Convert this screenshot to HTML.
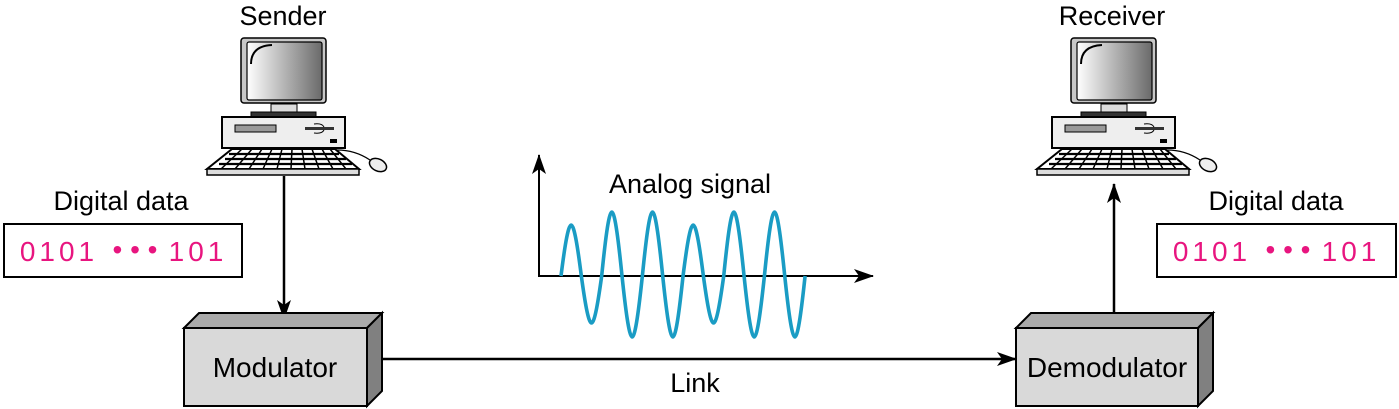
<!DOCTYPE html>
<html><head><meta charset="utf-8"><style>
html,body{margin:0;padding:0;background:#fff;}
svg{display:block;}
text{font-family:"Liberation Sans",sans-serif;}
</style></head><body>
<svg width="1399" height="409" viewBox="0 0 1399 409" xmlns="http://www.w3.org/2000/svg">
<defs>
<linearGradient id="scr" x1="0" y1="0" x2="1" y2="0">
<stop offset="0" stop-color="#ffffff"/><stop offset="1" stop-color="#6a6a6a"/>
</linearGradient>
<marker id="ah" viewBox="0 0 20 14" refX="19" refY="7" markerWidth="20" markerHeight="14" markerUnits="userSpaceOnUse" orient="auto">
<path d="M0,0 L20,7 L0,14 L5,7 Z" fill="#000"/>
</marker>
<g id="pc">
<rect x="241" y="38" width="85" height="65" rx="3" fill="#c8c8c8" stroke="#000" stroke-width="1.5"/>
<rect x="247" y="42" width="75" height="58" rx="2" fill="url(#scr)" stroke="#000" stroke-width="1.2"/>
<path d="M251,64 Q251,46 272,45" fill="none" stroke="#000" stroke-width="2"/>
<rect x="271" y="104" width="26" height="8" fill="#ddd" stroke="#000" stroke-width="1"/>
<rect x="251" y="112" width="65" height="5" fill="#333" stroke="#000" stroke-width="1"/>
<rect x="222" y="117" width="123" height="31" fill="#eee" stroke="#000" stroke-width="2"/>
<rect x="235" y="125" width="41" height="7" fill="#999" stroke="#000" stroke-width="1"/>
<rect x="305" y="127" width="29" height="3" fill="#333"/>
<path d="M314,124 Q322,123 324,127 M314,133 Q322,134 324,130" fill="none" stroke="#000" stroke-width="1"/>
<rect x="330" y="139" width="7" height="4" fill="#000"/>
<path d="M337,150 Q355,150 370,160" fill="none" stroke="#000" stroke-width="1.2"/>
<ellipse cx="378" cy="165" rx="9" ry="6" transform="rotate(25 378 165)" fill="#eee" stroke="#000" stroke-width="1.5"/>
<path d="M232,149 L335,149 L359,169 L207,169 Z" fill="#fff" stroke="#000" stroke-width="2"/>
<path d="M229,154 L339,154 M225,159 L346,159 M219,164 L352,164" stroke="#000" stroke-width="2.2"/>
<path d="M242,149 L221,169 M252,149 L235,169 M262,149 L249,169 M272,149 L263,169 M282,149 L277,169 M292,149 L291,169 M302,149 L305,169 M312,149 L319,169 M322,149 L333,169 M330,149 L346,169" stroke="#000" stroke-width="1.5"/>
<rect x="207" y="169" width="152" height="6" fill="#ddd" stroke="#000" stroke-width="1.5"/>
</g>
</defs>

<text x="283" y="25" font-size="27" text-anchor="middle">Sender</text>
<use href="#pc"/>
<text x="1112" y="25" font-size="27" text-anchor="middle">Receiver</text>
<use href="#pc" transform="translate(830,0)"/>

<!-- digital data left -->
<text x="121" y="210" font-size="27" text-anchor="middle">Digital data</text>
<rect x="4" y="224" width="238" height="53" fill="#fff" stroke="#000" stroke-width="2"/>
<g font-size="28" fill="#e8157f" text-anchor="middle">
<text x="59" y="261" letter-spacing="4">0101</text>
<text x="135" y="259">• • •</text>
<text x="198" y="261" letter-spacing="4">101</text>
</g>
<!-- digital data right -->
<text x="1276" y="210" font-size="27" text-anchor="middle">Digital data</text>
<rect x="1157" y="224" width="239" height="53" fill="#fff" stroke="#000" stroke-width="2"/>
<g font-size="28" fill="#e8157f" text-anchor="middle">
<text x="1212" y="261" letter-spacing="4">0101</text>
<text x="1288" y="259">• • •</text>
<text x="1351" y="261" letter-spacing="4">101</text>
</g>

<!-- arrows -->
<line x1="284" y1="176" x2="284" y2="319" stroke="#000" stroke-width="2.5" marker-end="url(#ah)"/>
<line x1="1114" y1="320" x2="1114" y2="184" stroke="#000" stroke-width="2.5" marker-end="url(#ah)"/>
<line x1="376" y1="359" x2="1016" y2="359" stroke="#000" stroke-width="2.5" marker-end="url(#ah)"/>
<text x="695" y="392" font-size="27" text-anchor="middle">Link</text>

<!-- modulator -->
<path d="M184,328 L199,313 L382,313 L367,328 Z" fill="#aaa" stroke="#000" stroke-width="2"/>
<path d="M367,328 L382,313 L382,391 L367,406 Z" fill="#808080" stroke="#000" stroke-width="2"/>
<rect x="184" y="328" width="183" height="78" fill="#d9d9d9" stroke="#000" stroke-width="2"/>
<text x="275" y="377" font-size="28" text-anchor="middle">Modulator</text>
<!-- demodulator -->
<path d="M1016,328 L1031,313 L1213,313 L1198,328 Z" fill="#aaa" stroke="#000" stroke-width="2"/>
<path d="M1198,328 L1213,313 L1213,391 L1198,406 Z" fill="#808080" stroke="#000" stroke-width="2"/>
<rect x="1016" y="328" width="182" height="78" fill="#d9d9d9" stroke="#000" stroke-width="2"/>
<text x="1107" y="377" font-size="28" text-anchor="middle">Demodulator</text>

<!-- analog signal -->
<line x1="539" y1="277" x2="539" y2="155" stroke="#000" stroke-width="2" marker-end="url(#ah)"/>
<line x1="539" y1="276" x2="873" y2="276" stroke="#000" stroke-width="2" marker-end="url(#ah)"/>
<text x="690" y="193" font-size="27" text-anchor="middle">Analog signal</text>
<path fill="none" stroke="#1a9cc4" stroke-width="3.6" d="M561,276
c3.3,-26.1 6.9,-51 10.17,-51 c3.2,0 6.85,24.9 10.17,51 c3.3,24.1 6.9,47 10.17,47 c3.2,0 6.85,-22.9 10.17,-47
c3.3,-32.8 6.9,-64 10.17,-64 c3.2,0 6.85,31.2 10.17,64 c3.3,31.2 6.9,61 10.17,61 c3.2,0 6.85,-29.8 10.17,-61
c3.3,-32.8 6.9,-64 10.17,-64 c3.2,0 6.85,31.2 10.17,64 c3.3,31.2 6.9,61 10.17,61 c3.2,0 6.85,-29.8 10.17,-61
c3.3,-26.1 6.9,-51 10.17,-51 c3.2,0 6.85,24.9 10.17,51 c3.3,24.1 6.9,47 10.17,47 c3.2,0 6.85,-22.9 10.17,-47
c3.3,-32.8 6.9,-64 10.17,-64 c3.2,0 6.85,31.2 10.17,64 c3.3,31.2 6.9,61 10.17,61 c3.2,0 6.85,-29.8 10.17,-61
c3.3,-32.8 6.9,-64 10.17,-64 c3.2,0 6.85,31.2 10.17,64 c3.3,31.2 6.9,61 10.17,61 c3.2,0 6.85,-29.8 10.17,-61"/>
</svg>
</body></html>
